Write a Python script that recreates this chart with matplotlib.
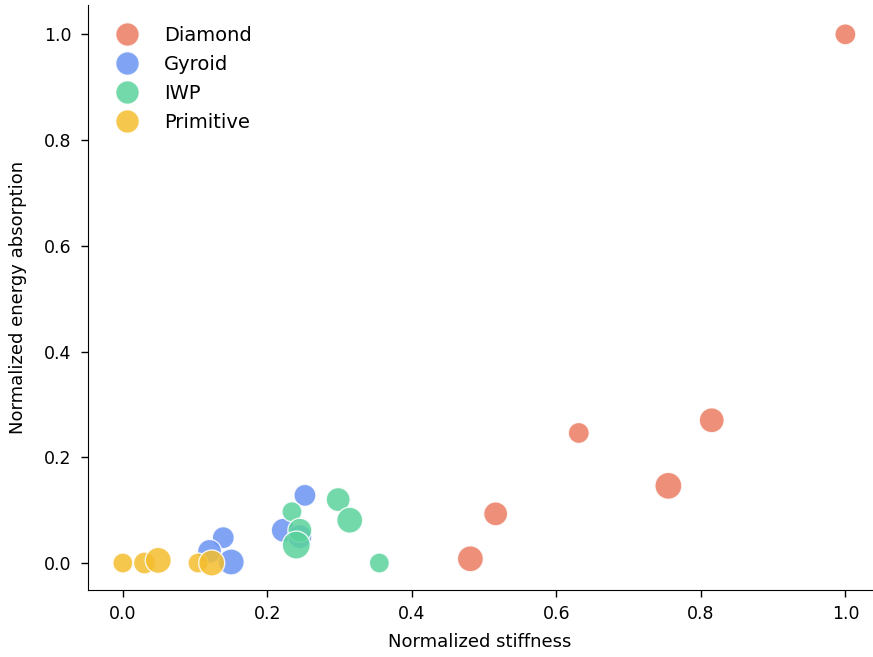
import matplotlib
matplotlib.use('Agg')
import matplotlib.pyplot as plt
from matplotlib.lines import Line2D

# data (normalized values)
diamond_x = [0.481, 0.516, 0.631, 0.755, 0.815, 1.0]
diamond_y = [0.008, 0.093, 0.246, 0.146, 0.270, 1.0]
diamond_r = [13, 12, 10.5, 13.5, 12.5, 10.5]

gyroid_x = [0.139, 0.120, 0.150, 0.252, 0.222, 0.245]
gyroid_y = [0.048, 0.022, 0.002, 0.128, 0.062, 0.050]
gyroid_r = [11, 12, 13, 11, 12, 12]

iwp_x = [0.234, 0.245, 0.240, 0.298, 0.314, 0.355]
iwp_y = [0.097, 0.062, 0.034, 0.120, 0.081, 0.000]
iwp_r = [10, 12, 14, 12, 13, 10]

prim_x = [0.0, 0.030, 0.049, 0.104, 0.123]
prim_y = [0.0, 0.000, 0.005, 0.000, 0.000]
prim_r = [10, 11, 13, 10, 13]

groups = ['Diamond', 'Gyroid', 'IWP', 'Primitive']
colors = ['#ec7b62', '#6a93f2', '#5ad39c', '#f4bd2e']


def size_pts(radii):
	'''pixel radius -> scatter area in points^2 (dpi 100)'''
	return [(2 * r * 0.72) ** 2 for r in radii]


def main():
	fig, ax = plt.subplots(figsize=(8.73, 6.57), dpi=100)
	fig.subplots_adjust(left=0.101, right=0.999, bottom=0.102, top=0.992)

	data = [(diamond_x, diamond_y, diamond_r), (gyroid_x, gyroid_y, gyroid_r),
			(iwp_x, iwp_y, iwp_r), (prim_x, prim_y, prim_r)]
	for (xs, ys, rs), name, col in zip(data, groups, colors):
		ax.scatter(xs, ys, s=size_pts(rs), color=col, alpha=0.85,
				   edgecolors='white', linewidths=1.0, label=name, zorder=3)

	ax.set_xlim(-0.048, 1.037)
	ax.set_ylim(-0.051, 1.055)
	ax.set_xticks([0.0, 0.2, 0.4, 0.6, 0.8, 1.0])
	ax.set_yticks([0.0, 0.2, 0.4, 0.6, 0.8, 1.0])
	ax.tick_params(labelsize=12.5, length=5, width=1)
	ax.tick_params(axis='x', pad=6)
	ax.tick_params(axis='y', pad=7)
	ax.set_xlabel('Normalized stiffness', fontsize=13, labelpad=7)
	ax.set_ylabel('Normalized energy absorption', fontsize=13, labelpad=12)
	ax.spines['top'].set_visible(False)
	ax.spines['right'].set_visible(False)

	handles = [Line2D([], [], marker='o', linestyle='', markersize=17,
					  markerfacecolor=c, markeredgecolor='white', alpha=0.85)
			   for c in colors]
	ax.legend(handles, groups, loc='upper left', frameon=False, fontsize=14,
			  bbox_to_anchor=(0.002, 0.995), handletextpad=0.9, labelspacing=0.52)

	fig.savefig('out.png', dpi=100)


if __name__ == '__main__':
	main()
